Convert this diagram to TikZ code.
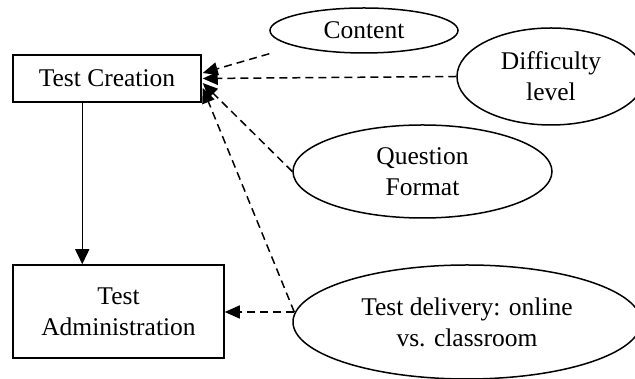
\documentclass[tikz,border=0pt]{standalone}
\usepackage{fontspec}
\setmainfont{Liberation Serif}
\usetikzlibrary{shapes.geometric,arrows.meta,calc}
\begin{document}
\begin{tikzpicture}[x=1pt,y=1pt,
  every node/.style={font=\fontsize{25.5}{31}\selectfont, align=center, inner sep=0pt},
  box/.style={draw, line width=1.5pt, rectangle},
  oval/.style={draw, line width=1.5pt, ellipse},
  link/.style={line width=1.5pt, dash pattern=on 8pt off 5pt,
               -{Triangle[length=15pt,width=13pt]}},
  flow/.style={line width=1.5pt, -{Triangle[length=15pt,width=14pt]}}]
\clip (0,0) rectangle (635,379);

% process boxes
\node[box, minimum width=188pt, minimum height=47pt] (tc) at (107,300.5) {Test Creation};
\node[box, minimum width=211pt, minimum height=93pt] (ta) at (118.5,67.5) {Test\\Administration};

% influencing factors
\node[oval, minimum width=188pt, minimum height=45pt] (content) at (364,348.5) {Content};
\node[oval, minimum width=188pt, minimum height=97pt] (diff) at (551,302.5) {Difficulty\\level};
\node[oval, minimum width=259pt, minimum height=93pt] (qf) at (422.5,207.5) {Question\\Format};
\node[oval, minimum width=348pt, minimum height=114pt] (td) at (467,57) {Test delivery: online\\vs. classroom};

% main flow
\coordinate (vtop) at ($(tc.south west)+(70,0)$);
\draw[flow] (vtop) -- (vtop |- ta.north);

% dashed influences
\coordinate (tdport) at ($(td.west)+(2,10)$);
\draw[link] (tdport) -- (tdport -| ta.east);
\draw[link] (content.west |- content.south) -- ($(tc.east)+(1,5.5)$);
\draw[link] (diff.west) -- ($(tc.east)+(1,0)$);
\draw[link] (qf.west) -- ($(tc.east)+(1,-4.5)$);
\draw[link] (tdport) -- ($(tc.east)+(1,-9.5)$);
\end{tikzpicture}
\end{document}
